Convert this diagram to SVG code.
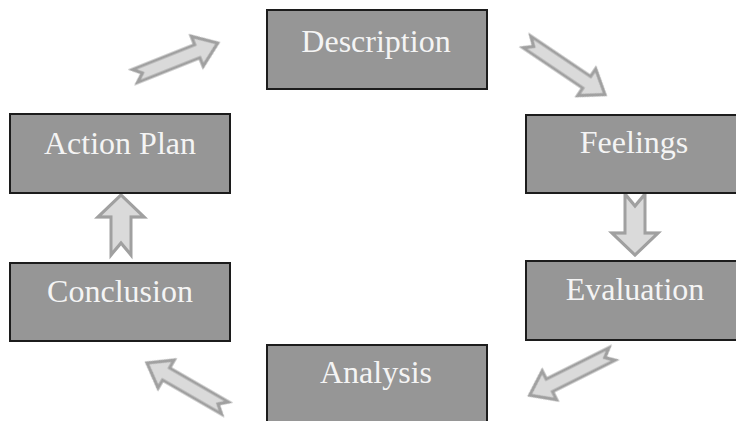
<svg xmlns="http://www.w3.org/2000/svg" width="736" height="421" viewBox="0 0 736 421">
<defs>
<style>
.box{fill:#969696;stroke:#1c1c1c;stroke-width:2}
.lbl{font-family:"Liberation Serif","Times New Roman",serif;font-size:32px;fill:#f4f4f4;text-anchor:middle}
.arr{fill:#dadada;stroke:#a0a0a0;stroke-width:3.2;stroke-linejoin:miter;filter:url(#soft)}
</style>
<filter id="soft" x="-20%" y="-20%" width="140%" height="140%">
<feGaussianBlur stdDeviation="0.6"/>
</filter>
</defs>
<rect width="736" height="421" fill="#ffffff"/>
<g id="connectors">
<polygon class="arr" transform="translate(135,76) rotate(-21.7)" points="0,-7 67,-7 67,-16 89,0 67,16 67,7 0,7 8,0"/>
<polygon class="arr" transform="translate(527,42) rotate(34)" points="0,-7 72,-7 72,-16 94,0 72,16 72,7 0,7 8,0"/>
<polygon class="arr" transform="translate(635,194) rotate(90)" points="0,-10 39,-10 39,-23 61,0 39,23 39,10 0,10 12,0"/>
<polygon class="arr" transform="translate(612,354) rotate(153.4)" points="0,-7 70,-7 70,-16 92,0 70,16 70,7 0,7 8,0"/>
<polygon class="arr" transform="translate(225,408) rotate(-150)" points="0,-7 68,-7 68,-16 90,0 68,16 68,7 0,7 8,0"/>
<polygon class="arr" transform="translate(121,255) rotate(-90)" points="0,-10 38,-10 38,-23 60,0 38,23 38,10 0,10 12,0"/>
</g>
<g id="description">
<rect class="box" x="267" y="10" width="220" height="79"/>
<text class="lbl" x="376" y="52">Description</text>
</g>
<g id="feelings">
<rect class="box" x="526" y="115" width="220" height="78"/>
<text class="lbl" x="634" y="153">Feelings</text>
</g>
<g id="evaluation">
<rect class="box" x="526" y="261" width="220" height="79"/>
<text class="lbl" x="635" y="300">Evaluation</text>
</g>
<g id="analysis">
<rect class="box" x="267" y="345" width="220" height="79"/>
<text class="lbl" x="376" y="383">Analysis</text>
</g>
<g id="conclusion">
<rect class="box" x="10" y="263" width="220" height="78"/>
<text class="lbl" x="120" y="302">Conclusion</text>
</g>
<g id="action-plan">
<rect class="box" x="10" y="114" width="220" height="79"/>
<text class="lbl" x="120" y="154">Action Plan</text>
</g>
</svg>
